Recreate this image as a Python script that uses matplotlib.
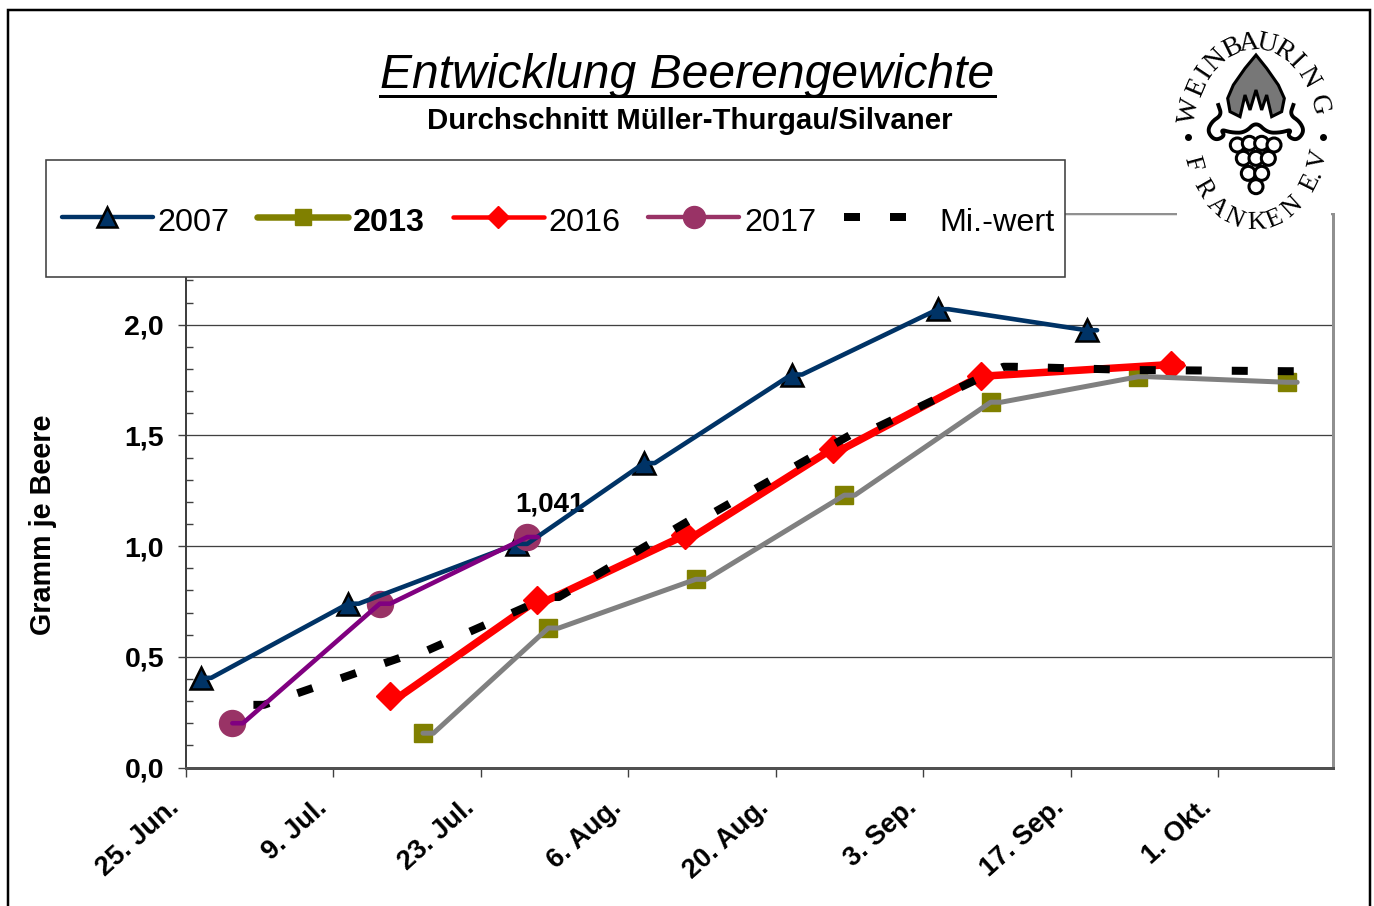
import numpy as np
from matplotlib import pyplot as plt
from matplotlib.lines import Line2D
from matplotlib.patches import Rectangle, Circle, Polygon
from matplotlib.transforms import ScaledTranslation

plt.rcParams['font.family'] = ['Liberation Sans', 'DejaVu Sans']

W, H = 1374, 906

# x values are days after 25 June
tick_days = [0, 14, 28, 42, 56, 70, 84, 98]
tick_labels = ['25. Jun.', '9. Jul.', '23. Jul.', '6. Aug.', '20. Aug.', '3. Sep.', '17. Sep.', '1. Okt.']

days_2007 = [1.4, 15.4, 31.4, 43.5, 57.5, 71.4, 85.5]
vals_2007 = [0.405, 0.74, 1.01, 1.375, 1.775, 2.07, 1.975]
days_2013 = [22.5, 34.4, 48.4, 62.5, 76.4, 90.4, 104.5]
vals_2013 = [0.155, 0.63, 0.85, 1.23, 1.65, 1.765, 1.74]
days_2016 = [19.4, 33.3, 47.4, 61.4, 75.5, 93.5]
vals_2016 = [0.325, 0.755, 1.05, 1.44, 1.77, 1.82]
days_2017 = [4.4, 18.4, 32.4]
vals_2017 = [0.2, 0.74, 1.041]
days_mean = [6.4, 20.3, 34.4, 48.3, 63.0, 77.6, 90.4, 104.5]
vals_mean = [0.283, 0.495, 0.77, 1.13, 1.50, 1.81, 1.795, 1.79]


def fx(px):
    return px / W


def fy(py):
    return 1 - py / H


def pt(px):
    return px * 0.72


def stub(days, vals):
    # every reading is held for one day on the date axis, gives the small flat bits
    d = np.asarray(days)
    return np.column_stack([d, d + 1]).ravel(), np.repeat(vals, 2)


def smooth(points, n=3):
    # chaikin corner cutting, only for the logo scrolls
    p = np.asarray(points, dtype=float)
    for _ in range(n):
        q = 0.75 * p[:-1] + 0.25 * p[1:]
        r = 0.25 * p[:-1] + 0.75 * p[1:]
        p = np.vstack([p[0], np.column_stack([q, r]).reshape(-1, 2), p[-1]])
    return p


fig = plt.figure(figsize=(W / 100, H / 100), dpi=100)
ax = fig.add_axes([fx(186), fy(767.5), fx(1333) - fx(186), fy(214) - fy(767.5)])
ax.set_xlim(0, 108.9)
ax.set_ylim(0, 2.5)

# markers first, lines on top of them
ax.plot(days_2007, vals_2007, ls='', marker='^', ms=16.5, mfc='#003366', mec='black', mew=1.8, zorder=3.0)
ax.plot(days_2013, vals_2013, ls='', marker='s', ms=pt(18), mfc='#808000', mec='#808000', zorder=3.1)
ax.plot(days_2016, vals_2016, ls='', marker='D', ms=pt(20), mfc='red', mec='red', zorder=3.2)
ax.plot(days_2017, vals_2017, ls='', marker='o', ms=pt(26), mfc='#993366', mec='#993366', zorder=3.3)

for days, vals, col, lw, z in [
    (days_2007, vals_2007, '#003366', 4.6, 4.0),
    (days_2013, vals_2013, '#808080', 5, 4.1),
    (days_2016, vals_2016, 'red', 7.5, 4.2),
    (days_2017, vals_2017, '#800080', 4.6, 4.4),
]:
    x, y = stub(days, vals)
    ax.plot(x, y, color=col, lw=pt(lw), solid_capstyle='round', solid_joinstyle='round', zorder=z)

x, y = stub(days_mean, vals_mean)
ax.plot(x, y, color='black', lw=pt(8), dashes=(2.0, 3.75), dash_capstyle='butt', zorder=4.3)

ax.annotate('1,041', (days_2017[2], vals_2017[2]), xytext=(pt(23), pt(33)), textcoords='offset points',
            ha='center', va='center', fontsize=20, fontweight='bold', zorder=2.5)

# axes look
ax.set_yticks(np.arange(0, 2.6, 0.5))
ax.set_yticks(np.arange(0, 2.51, 0.1), minor=True)
ax.set_yticklabels(['0,0', '0,5', '1,0', '1,5', '2,0', ''], fontsize=20.5, fontweight='bold')
ax.set_xticks(tick_days)
ax.set_xticklabels(tick_labels, fontsize=19.5, fontweight='bold', rotation=42, ha='right', rotation_mode='anchor')
ax.tick_params(axis='y', which='major', direction='out', length=pt(8), width=1, color='#404040', pad=pt(14))
ax.tick_params(axis='y', which='minor', direction='in', length=pt(7), width=1, color='#404040')
ax.tick_params(axis='x', direction='out', length=pt(9), width=1, color='#404040', pad=pt(18))
# labels end left of their ticks in the original
shift = ScaledTranslation(-19 / 100, 0, fig.dpi_scale_trans)
for lab in ax.get_xticklabels():
    lab.set_transform(lab.get_transform() + shift)
ax.grid(axis='y', which='major', color='#404040', lw=pt(1.3), zorder=1)
ax.set_axisbelow(True)
ax.spines['left'].set(color='#404040', lw=pt(2))
ax.spines['bottom'].set(color='#505050', lw=pt(3))
ax.spines['right'].set(color='#909090', lw=pt(3))
ax.spines['top'].set(color='#909090', lw=pt(2))
fig.text(fx(43), fy(525), 'Gramm je Beere', rotation=90, ha='center', va='center', fontsize=20.7, fontweight='bold')

# title
fig.text(fx(687.5), fy(76), 'Entwicklung Beerengewichte', ha='center', va='center', fontsize=34.6, style='italic')
fig.add_artist(Line2D([fx(380), fx(995)], [fy(95.5), fy(95.5)], color='black', lw=pt(3)))
fig.text(fx(690), fy(121), 'Durchschnitt Müller-Thurgau/Silvaner', ha='center', va='center', fontsize=21.2, fontweight='bold')

# legend box sits over the upper part of the plot
box = Rectangle((fx(46), fy(277)), fx(1065) - fx(46), fy(160) - fy(277), transform=fig.transFigure,
                facecolor='white', edgecolor='#404040', lw=pt(1.6), zorder=5)
fig.add_artist(box)
handles = [
    Line2D([], [], color='#003366', lw=pt(4.4), marker='^', ms=14, mfc='#003366', mec='black', mew=1.8, solid_capstyle='round'),
    Line2D([], [], color='#808000', lw=pt(6.5), marker='s', ms=pt(16), mfc='#808000', mec='#808000', solid_capstyle='round'),
    Line2D([], [], color='red', lw=pt(4.5), marker='D', ms=pt(16), mfc='red', mec='red', solid_capstyle='round'),
    Line2D([], [], color='#993366', lw=pt(4.4), marker='o', ms=pt(22), mfc='#993366', mec='#993366', solid_capstyle='round'),
    Line2D([], [], color='black', lw=pt(8), dashes=(2.0, 3.75), dash_capstyle='butt'),
]
leg = fig.legend(handles, ['2007', '2013', '2016', '2017', 'Mi.-wert'], ncols=5, loc='center left',
                 bbox_to_anchor=(fx(61.5), fy(220)), borderaxespad=0, borderpad=0, frameon=False,
                 fontsize=pt(32.4), handlelength=2.81, handletextpad=0.15, columnspacing=0.855)
leg.set_zorder(6)
leg.get_texts()[1].set_fontweight('bold')
for t in leg.get_texts():
    t.set_position((0, -3))

# logo, coordinates are just a local grid for this small drawing
logo = fig.add_axes([fx(1177), fy(240), fx(1331) - fx(1177), fy(25) - fy(240)], zorder=7)
logo.set_xlim(81, 543)
logo.set_ylim(690, 45)
logo.set_xticks([])
logo.set_yticks([])
for s in logo.spines.values():
    s.set_visible(False)

cx, cy, rx, ry = 315, 369, 200, 270
top_word = 'WEINBAURING'
top_angles = [166, 150, 138, 126, 110, 95, 80, 65, 52, 38, 18]
for c, a in zip(top_word, top_angles):
    t = np.radians(a)
    logo.text(cx + rx * np.cos(t), cy - ry * np.sin(t), c, rotation=np.degrees(np.arctan2(-ry * np.cos(t), rx * np.sin(t))),
              rotation_mode='anchor', ha='center', va='center', fontsize=20, family='Liberation Serif')
bottom_word = 'FRANKENE.V'
bottom_angles = [200, 218, 235, 251, 271, 287, 304, 326, 333, 343]
for c, a in zip(bottom_word, bottom_angles):
    t = np.radians(a)
    logo.text(cx + rx * np.cos(t), cy - ry * np.sin(t), c, rotation=np.degrees(np.arctan2(ry * np.cos(t), -rx * np.sin(t))),
              rotation_mode='anchor', ha='center', va='center', fontsize=19, family='Liberation Serif')
logo.plot([115, 520], [380, 380], ls='', marker='o', ms=4, color='black')

leaf = [(318, 135), (285, 175), (250, 225), (233, 265), (240, 305), (270, 320), (285, 255), (300, 300), (318, 240),
        (335, 300), (350, 255), (365, 320), (395, 305), (403, 265), (385, 225), (350, 175)]
logo.add_patch(Polygon(leaf, closed=True, facecolor='#777777', edgecolor='black', lw=2.2))
scroll = [(205, 285), (215, 315), (185, 335), (172, 365), (195, 392), (225, 378), (212, 358), (245, 368), (285, 368),
          (318, 335), (352, 368), (392, 368), (425, 358), (412, 378), (440, 392), (463, 365), (450, 335), (420, 315), (430, 285)]
logo.plot(*smooth(scroll).T, color='black', lw=2.8, solid_joinstyle='round')
grapes = [(262, 405), (298, 400), (335, 400), (372, 405), (280, 445), (318, 445), (355, 445), (295, 490), (335, 490), (318, 530)]
for g in grapes:
    logo.add_patch(Circle(g, 21, facecolor='white', edgecolor='black', lw=2.2))

# outer black frame, runs off the bottom of the image
fig.add_artist(Rectangle((fx(7.5), -0.05), fx(1369.5) - fx(7.5), fy(10) + 0.05, transform=fig.transFigure,
                         fill=False, edgecolor='black', lw=pt(2.5), zorder=8))

fig.savefig('out.png', dpi=100)
